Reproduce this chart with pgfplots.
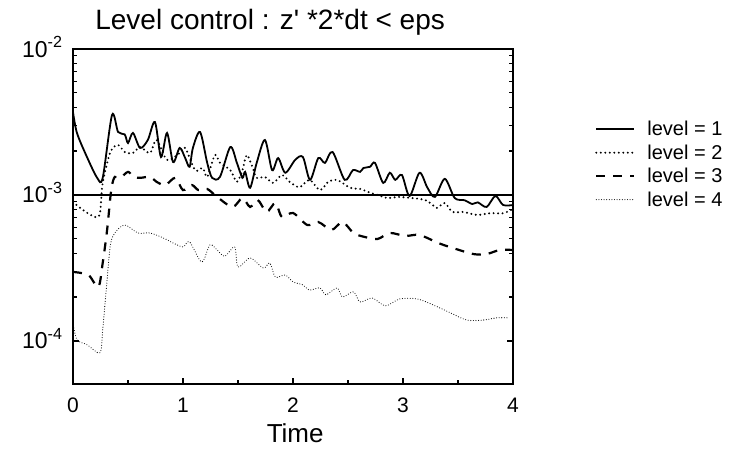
\documentclass[border=0pt]{standalone}
\usepackage{pgfplots}
\pgfplotsset{compat=1.18}
\usepackage{fontspec}
\setmainfont{Liberation Sans}
\begin{document}
\begin{tikzpicture}
\path[use as bounding box] (-73pt,-67pt) rectangle (660pt,384pt);
\begin{axis}[
  scale only axis, width=440pt, height=335pt,
  xmin=0, xmax=4, ymode=log, ymin=5.07e-5, ymax=1e-2,
  xtick={0,1,2,3,4}, minor x tick num=1,
  ytick={1e-4,1e-3,1e-2},
  yticklabels={10\textsuperscript{-4},10\textsuperscript{-3},10\textsuperscript{-2}},
  xtick pos=left, ytick pos=both,
  /pgf/number format/assume math mode=true,
  axis line style={line width=1.6pt},
  tick style={black, line width=1.1pt},
  major tick length=6pt, minor tick length=4pt,
  xticklabel style={font=\fontsize{21}{21}\selectfont, anchor=base, yshift=-28pt},
  yticklabel style={font=\fontsize{23}{23}\selectfont, anchor=base east, yshift=-8pt, xshift=-7pt},
  title={Level control : z\textquotesingle{} *2*dt < eps},
  title style={at={(0.448,1)}, anchor=base, yshift=14pt, font=\fontsize{28}{30}\selectfont},
  xlabel={Time},
  xlabel style={at={(0.505,0)}, anchor=base, yshift=-58pt, font=\fontsize{26}{26}\selectfont},
  legend style={at={(1,1)}, anchor=north west, xshift=82pt, yshift=-70pt, draw=none, fill=none,
    font=\fontsize{20}{22}\selectfont, inner sep=0pt, row sep=3.5pt,
    /tikz/every odd column/.append style={column sep=10pt}},
  legend cell align=left,
  legend image code/.code={\draw[#1] (0pt,0pt) -- (38pt,0pt);},
]
% level = 1
\addplot[black, line width=1.8pt, smooth, tension=0.5] coordinates {
(0,3.70e-3) (0.036,2.66e-3) (0.127,1.82e-3) (0.22,1.31e-3) (0.27,1.31e-3)
(0.355,3.53e-3) (0.41,2.70e-3) (0.47,2.60e-3) (0.50,2.27e-3) (0.545,2.66e-3)
(0.61,2.10e-3) (0.68,2.38e-3) (0.745,3.16e-3) (0.80,1.82e-3) (0.855,2.66e-3)
(0.91,1.68e-3) (0.97,2.10e-3) (1.02,1.79e-3) (1.06,1.56e-3) (1.09,2.10e-3)
(1.155,2.70e-3) (1.22,1.66e-3) (1.265,1.31e-3) (1.336,1.33e-3) (1.43,2.13e-3)
(1.49,1.66e-3) (1.54,1.31e-3) (1.565,1.44e-3) (1.61,1.12e-3) (1.67,1.66e-3)
(1.745,2.38e-3) (1.81,1.48e-3) (1.865,1.79e-3) (1.93,1.42e-3) (2.02,1.74e-3)
(2.09,1.82e-3) (2.155,1.27e-3) (2.23,1.79e-3) (2.29,1.66e-3) (2.36,1.97e-3)
(2.47,1.27e-3) (2.545,1.48e-3) (2.61,1.44e-3) (2.64,1.53e-3) (2.70,1.56e-3)
(2.745,1.66e-3) (2.82,1.21e-3) (2.88,1.42e-3) (2.93,1.27e-3) (2.99,1.37e-3)
(3.06,0.985e-3) (3.15,1.42e-3) (3.22,1.13e-3) (3.29,0.97e-3) (3.38,1.29e-3)
(3.47,0.953e-3) (3.56,0.92e-3) (3.63,0.867e-3) (3.68,0.89e-3) (3.76,0.828e-3)
(3.84,0.985e-3) (3.91,0.854e-3) (4.0,0.854e-3)
};
\addlegendentry{level = 1}
% level = 2
\addplot[black, line width=2.2pt, line cap=round, dash pattern=on 0pt off 4.5pt, smooth, tension=0.5] coordinates {
(0,0.895e-3) (0.1,0.78e-3) (0.2,0.707e-3) (0.245,0.75e-3) (0.27,1.21e-3)
(0.34,1.97e-3) (0.41,2.20e-3) (0.47,1.97e-3) (0.545,1.94e-3) (0.61,2.13e-3)
(0.70,1.94e-3) (0.76,2.38e-3) (0.855,1.74e-3) (0.97,1.94e-3) (1.02,2.10e-3)
(1.11,1.48e-3) (1.18,1.53e-3) (1.22,1.33e-3) (1.29,1.88e-3) (1.336,1.66e-3)
(1.43,1.48e-3) (1.49,1.23e-3) (1.54,1.48e-3) (1.58,1.88e-3) (1.63,1.56e-3)
(1.67,1.31e-3) (1.745,1.33e-3) (1.82,1.21e-3) (1.90,1.37e-3) (1.97,1.23e-3)
(2.06,1.13e-3) (2.15,1.27e-3) (2.245,1.08e-3) (2.32,1.23e-3) (2.40,1.27e-3)
(2.52,1.12e-3) (2.61,1.10e-3) (2.68,1.05e-3) (2.77,1.0e-3) (2.86,0.953e-3)
(2.95,0.97e-3) (3.08,0.953e-3) (3.20,0.924e-3) (3.27,0.854e-3) (3.31,0.815e-3)
(3.38,0.881e-3) (3.45,0.765e-3) (3.55,0.765e-3) (3.67,0.730e-3) (3.79,0.75e-3)
(3.91,0.75e-3) (4.0,0.80e-3)
};
\addlegendentry{level = 2}
% level = 3
\addplot[black, line width=2.2pt, dash pattern=on 9pt off 8pt, smooth, tension=0.5] coordinates {
(0,0.297e-3) (0.14,0.283e-3) (0.23,0.234e-3) (0.27,0.342e-3) (0.31,0.576e-3)
(0.34,0.97e-3) (0.355,1.17e-3) (0.38,1.33e-3) (0.43,1.31e-3) (0.50,1.44e-3)
(0.55,1.33e-3) (0.61,1.31e-3) (0.70,1.33e-3) (0.76,1.23e-3) (0.84,1.17e-3)
(0.93,1.31e-3) (1.0,1.08e-3) (1.08,1.17e-3) (1.14,1.08e-3) (1.22,1.10e-3)
(1.31,0.97e-3) (1.45,0.828e-3) (1.54,0.953e-3) (1.61,0.828e-3) (1.68,0.924e-3)
(1.76,0.765e-3) (1.84,0.881e-3) (1.90,0.707e-3) (2.0,0.753e-3) (2.13,0.623e-3)
(2.23,0.653e-3) (2.35,0.576e-3) (2.45,0.653e-3) (2.55,0.549e-3) (2.65,0.516e-3)
(2.77,0.50e-3) (2.88,0.549e-3) (3.02,0.524e-3) (3.15,0.532e-3) (3.32,0.469e-3)
(3.45,0.434e-3) (3.64,0.394e-3) (3.76,0.394e-3) (3.88,0.420e-3) (4.0,0.420e-3)
};
\addlegendentry{level = 3}
% level = 4
\addplot[black, line width=1.1pt, line cap=round, dash pattern=on 0pt off 2.6pt, smooth, tension=0.5] coordinates {
(0,0.133e-3) (0.036,0.102e-3) (0.13,0.094e-3) (0.245,0.083e-3) (0.27,0.119e-3)
(0.31,0.262e-3) (0.34,0.455e-3) (0.38,0.549e-3) (0.47,0.623e-3) (0.59,0.549e-3)
(0.70,0.549e-3) (0.82,0.508e-3) (0.91,0.469e-3) (1.0,0.441e-3) (1.06,0.477e-3)
(1.17,0.348e-3) (1.245,0.455e-3) (1.31,0.420e-3) (1.38,0.38e-3) (1.47,0.441e-3)
(1.50,0.321e-3) (1.61,0.370e-3) (1.73,0.316e-3) (1.79,0.342e-3) (1.84,0.274e-3)
(1.93,0.283e-3) (2.0,0.254e-3) (2.09,0.242e-3) (2.15,0.223e-3) (2.245,0.231e-3)
(2.30,0.207e-3) (2.40,0.231e-3) (2.45,0.200e-3) (2.55,0.217e-3) (2.61,0.185e-3)
(2.72,0.197e-3) (2.84,0.174e-3) (2.97,0.194e-3) (3.13,0.194e-3) (3.27,0.177e-3)
(3.43,0.156e-3) (3.58,0.139e-3) (3.73,0.139e-3) (3.85,0.144e-3) (3.95,0.144e-3)
};
\addlegendentry{level = 4}
% reference level eps
\addplot[black, line width=1.6pt, forget plot] coordinates {(0,1e-3) (4,1e-3)};
\end{axis}
\end{tikzpicture}
\end{document}
